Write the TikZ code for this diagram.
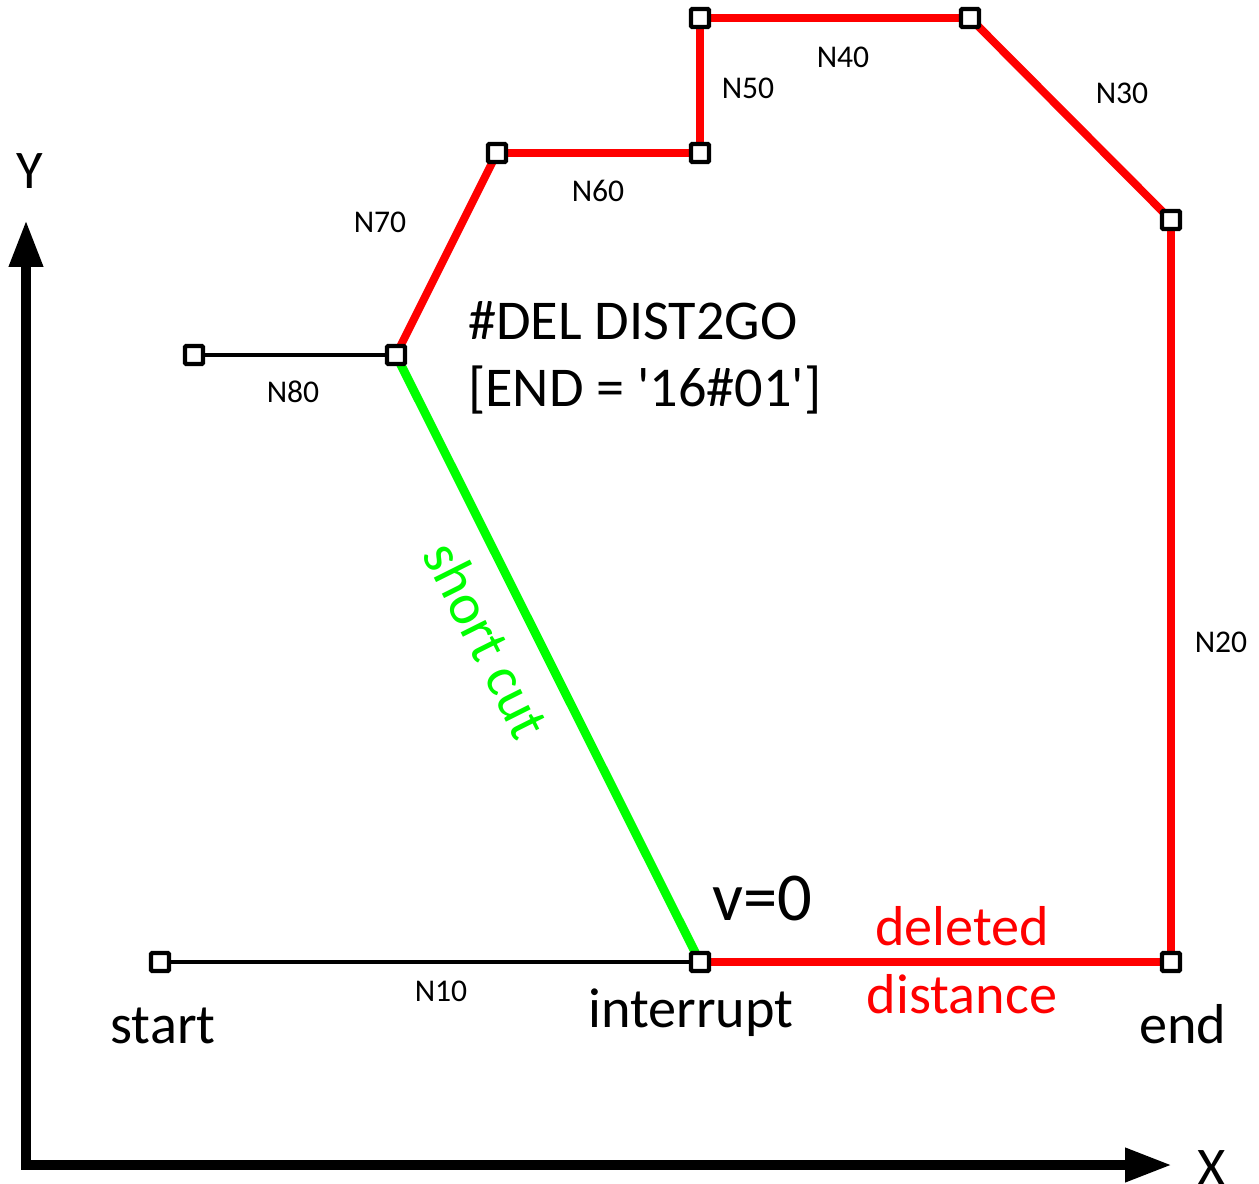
\documentclass[tikz,border=0pt]{standalone}
\usepackage{fontspec}
\setmainfont{Carlito}
\usetikzlibrary{arrows.meta}

\tikzset{
  knot/.style={rectangle, draw, line width=2.3pt, fill=white, minimum size=0.36cm, inner sep=0pt, rounded corners=0.6pt},
  redpath/.style={draw=red, line width=4.5pt},
  blackpath/.style={draw=black, line width=2.6pt},
  greenpath/.style={draw=green, line width=5pt},
  axis/.style={line width=5.7pt, line join=miter, {Triangle[length=0.94cm,width=0.64cm]}-{Triangle[length=0.94cm,width=0.64cm]}},
  big/.style={font=\fontsize{32}{38.5}\selectfont},
  small/.style={font=\fontsize{18}{22}\selectfont}
}

\begin{document}
\begin{tikzpicture}[x=0.02cm, y=-0.02cm]
\useasboundingbox (0,0) rectangle (1259,1184);

\coordinate (o) at (26,1165);
\coordinate (ytip) at (26,220);
\coordinate (xtip) at (1172,1165);
\draw[axis] (ytip) -- (o) -- (xtip);
\node[font=\fontsize{31}{37}\selectfont, anchor=base] (ylab) at (30,188) {Y};
\node[font=\fontsize{31}{37}\selectfont, anchor=base] (xlab) at (1212,1185) {X};

\coordinate (p0) at (160,962);
\coordinate (p1) at (700,962);
\coordinate (p2) at (1171,962);
\coordinate (p3) at (1171,220);
\coordinate (p4) at (970,18);
\coordinate (p5) at (700,18);
\coordinate (p6) at (700,153);
\coordinate (p7) at (497,153);
\coordinate (p8) at (396,355);
\coordinate (p9) at (194,355);

\draw[blackpath] (p0) -- (p1);
\draw[blackpath] (p9) -- (p8);
\draw[greenpath] (p8) -- (p1);
\draw[redpath] (p1) -- (p2) -- (p3) -- (p4) -- (p5) -- (p6) -- (p7) -- (p8);

\foreach \i in {0,...,9}
  \node[knot] (k\i) at (p\i) {};

\node[small] (n10) at (441,991) {N10};
\node[small] (n20) at (1221,642) {N20};
\node[small] (n30) at (1122,93) {N30};
\node[small] (n40) at (843,57) {N40};
\node[small] (n50) at (748,88) {N50};
\node[small] (n60) at (598,191) {N60};
\node[small] (n70) at (380,222) {N70};
\node[small] (n80) at (293,392) {N80};

\node[big, anchor=base] (start) at (163,1043) {start};
\node[big, anchor=base] (intr) at (691,1027) {interrupt};
\node[big, anchor=base] (endl) at (1183,1043) {end};
\node[font=\fontsize{39}{46}\selectfont, anchor=base] (v0) at (762,920) {v=0};
\node[big, text=red, align=center] (del) at (962,960) {deleted\\distance};
\node[big, align=left, anchor=west] (cmd) at (462,358) {\#DEL DIST2GO\\{[}END = \textquotesingle16\#01\textquotesingle]};
\node[font=\fontsize{33}{39}\selectfont, text=green, rotate=-63.4] (cut) at (487,640) {short cut};

\end{tikzpicture}
\end{document}
